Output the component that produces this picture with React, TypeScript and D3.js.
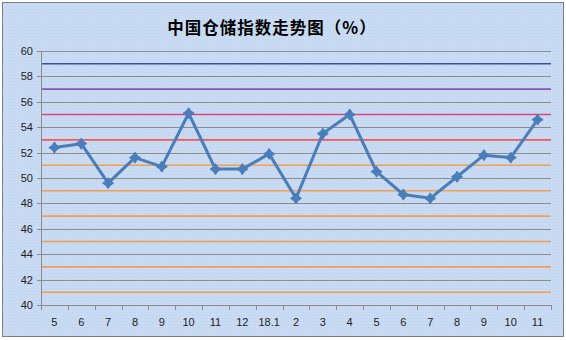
import React from "react";
import * as d3 from "d3";

const categories = ["5", "6", "7", "8", "9", "10", "11", "12", "18.1", "2", "3", "4", "5", "6", "7", "8", "9", "10", "11"];
const values = [52.4, 52.7, 49.6, 51.6, 50.9, 55.1, 50.7, 50.7, 51.9, 48.4, 53.5, 55.0, 50.5, 48.7, 48.4, 50.1, 51.8, 51.6, 54.6];
const yTicks = [40, 42, 44, 46, 48, 50, 52, 54, 56, 58, 60];
const refLines = [
  { v: 59, c: "#3c4bb4" },
  { v: 57, c: "#8a55b0" },
  { v: 55, c: "#d8457f" },
  { v: 53, c: "#f25a5a" },
  { v: 51, c: "#f0a050" },
  { v: 49, c: "#f0a050" },
  { v: 47, c: "#f0a050" },
  { v: 45, c: "#f0a050" },
  { v: 43, c: "#f0a050" },
  { v: 41, c: "#f0a050" },
];
const title = "中国仓储指数走势图（%）";

export default function App() {
  const W = 566, H = 340;
  const left = 41, right = 551, top = 51, bottom = 305;
  const x = d3.scaleBand<number>().domain(d3.range(categories.length)).range([left, right]).padding(0);
  const y = d3.scaleLinear().domain([40, 60]).range([bottom, top]);
  const cx = (i: number) => (x(i) as number) + x.bandwidth() / 2;
  const line = d3.line<number>().x((_, i) => cx(i)).y((d) => y(d));
  const s = 5;
  const k = 2;
  const star = `M0,${-s}L${k},${-k}L${s},0L${k},${k}L0,${s}L${-k},${k}L${-s},0L${-k},${-k}Z`;
  return (
    <svg width={W} height={H} style={{ position: "absolute", left: 0, top: 0 }}>
      <defs>
        <pattern id="dots" width="3" height="3" patternUnits="userSpaceOnUse">
          <rect width="3" height="3" fill="#c8dbf2" />
          <rect width="1" height="1" fill="#bdd2ee" />
        </pattern>
      </defs>
      <rect x={2.5} y={2.5} width={561} height={334} fill="url(#dots)" stroke="#7f7f7f" strokeWidth={1} />
      <text x={272} y={34} textAnchor="middle" fontFamily="'Noto Sans CJK SC'" fontWeight="bold" fontSize={16.5} letterSpacing={1} fill="#000">{title}</text>
      {yTicks.map((t) => (
        <g key={t}>
          <line x1={left - 4} x2={right} y1={Math.round(y(t)) + 0.5} y2={Math.round(y(t)) + 0.5} stroke="#8c8c8c" strokeWidth={1.2} />
          <text x={33} y={y(t) + 4} textAnchor="end" fontFamily="'Liberation Sans', Arial" fontSize={11} fill="#222">{t}</text>
        </g>
      ))}
      {refLines.map((r) => (
        <line key={r.v} x1={left} x2={right} y1={y(r.v)} y2={y(r.v)} stroke={r.c} strokeWidth={1.6} />
      ))}
      <line x1={left + 0.5} x2={left + 0.5} y1={top} y2={bottom} stroke="#8c8c8c" />
      <line x1={left} x2={right} y1={bottom + 0.5} y2={bottom + 0.5} stroke="#8c8c8c" />
      {d3.range(categories.length + 1).map((i) => {
        const xx = Math.round(left + i * x.bandwidth()) + 0.5;
        return <line key={i} x1={xx} x2={xx} y1={bottom} y2={bottom + 5} stroke="#8c8c8c" />;
      })}
      {categories.map((c, i) => (
        <text key={i} x={cx(i)} y={326} textAnchor="middle" fontFamily="'Liberation Sans', Arial" fontSize={11} fill="#222">{c}</text>
      ))}
      <path d={line(values) as string} fill="none" stroke="#4a7ebb" strokeWidth={3} strokeLinejoin="round" />
      {values.map((v, i) => (
        <path key={i} d={star} transform={`translate(${cx(i)},${y(v)})`} fill="#4a7ebb" stroke="#4a7ebb" strokeWidth={1.5} strokeLinejoin="round" />
      ))}
    </svg>
  );
}
